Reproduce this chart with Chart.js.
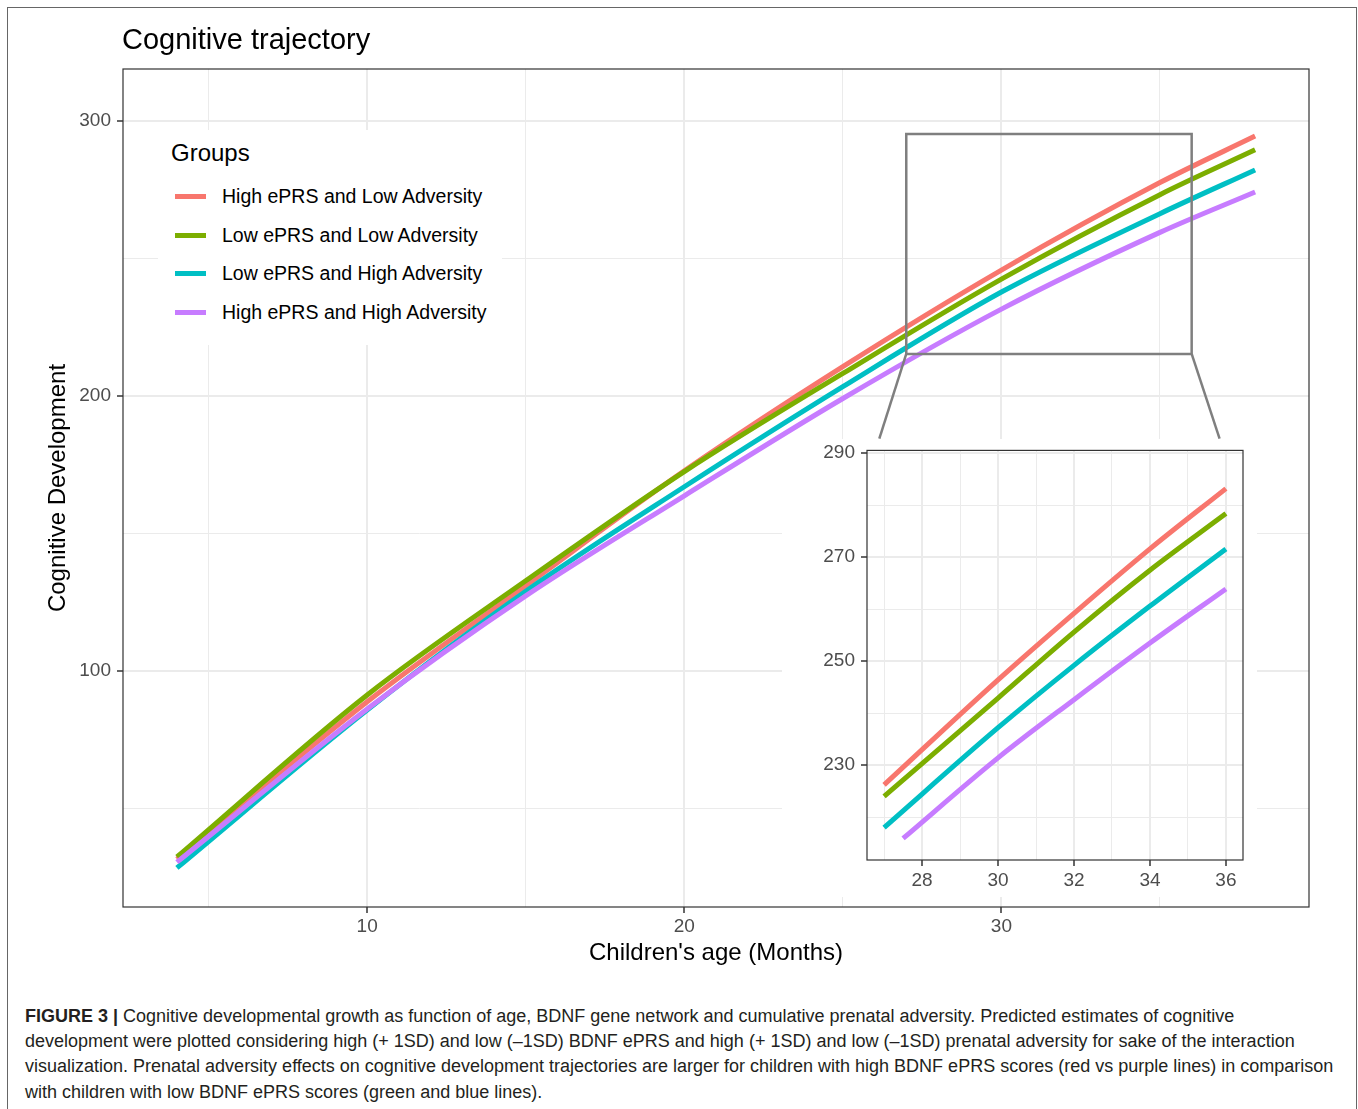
<!DOCTYPE html>
<html>
<head>
<meta charset="utf-8">
<script src="https://cdn.jsdelivr.net/npm/chart.js@4.4.0/dist/chart.umd.min.js"></script>
<style>
  html, body { margin: 0; padding: 0; background: #fff; }
  body { width: 1358px; height: 1109px; position: relative; overflow: hidden;
         font-family: "Liberation Sans", Arial, sans-serif; }
  #frame { position: absolute; left: 7px; top: 7px; width: 1350px; height: 1200px;
           box-sizing: border-box; border: 1.5px solid #666; }
  #mainChart { position: absolute; left: 0; top: 0; }
  #insetChart { position: absolute; left: 780px; top: 433px; }
  #title { position: absolute; left: 122px; top: 22px; font-size: 29px; line-height: 34px; color: #000; }
  #legend { position: absolute; left: 158px; top: 130px; width: 344px; height: 215px; background: #fff; }
  #legend .ttl { position: absolute; left: 13px; top: 9px; font-size: 24px; line-height: 28px; color: #000; }
  #legend .key { position: absolute; left: 17px; width: 31px; height: 5px; }
  #legend .lab { position: absolute; left: 64px; font-size: 19.5px; line-height: 24px; color: #000; white-space: nowrap; }
  .cap { position: absolute; left: 25px; font-size: 18px; line-height: 25px; color: #231f20; white-space: nowrap; }
</style>
</head>
<body>
<div id="frame"></div>
<canvas id="mainChart" width="1358" height="985"></canvas>
<div id="title">Cognitive trajectory</div>
<div id="legend"></div>
<canvas id="insetChart" width="477" height="464"></canvas>
<div class="cap" style="top:1004px"><b>FIGURE 3 |</b> Cognitive developmental growth as function of age, BDNF gene network and cumulative prenatal adversity. Predicted estimates of cognitive</div>
<div class="cap" style="top:1029px">development were plotted considering high (+ 1SD) and low (–1SD) BDNF ePRS and high (+ 1SD) and low (–1SD) prenatal adversity for sake of the interaction</div>
<div class="cap" style="top:1054px">visualization. Prenatal adversity effects on cognitive development trajectories are larger for children with high BDNF ePRS scores (red vs purple lines) in comparison</div>
<div class="cap" style="top:1080px">with children with low BDNF ePRS scores (green and blue lines).</div>

<script>
/* =========================
    Data
========================= */
const groupNames = [
  'High ePRS and Low Adversity',
  'Low ePRS and Low Adversity',
  'Low ePRS and High Adversity',
  'High ePRS and High Adversity'
];
const groupColors = ['#F8766D', '#7CAE00', '#00BFC4', '#C77CFF'];

// main panel: age in months
const ageMonths = [4, 10, 15, 20, 25, 30, 35, 38];
const highPrsLowAdv  = [31.6, 88.8, 131.0, 172.8, 210.7, 245.8, 277.6, 294.5];
const lowPrsLowAdv   = [32.4, 91.3, 132.8, 172.5, 208.2, 242.5, 273.2, 289.5];
const lowPrsHighAdv  = [28.4, 85.8, 129.0, 167.0, 203.4, 237.8, 266.3, 282.2];
const highPrsHighAdv = [30.5, 86.2, 127.3, 163.7, 199.1, 231.6, 259.5, 274.2];

// inset (zoom on 27-36 months)
const insetAge       = [27, 30, 32, 34, 36];
const insetAgePurple = [27.5, 30, 32, 34, 36];
const insetHighPrsLowAdv  = [226.2, 246.4, 259.2, 271.6, 283.2];
const insetLowPrsLowAdv   = [224.0, 242.9, 255.6, 267.5, 278.4];
const insetLowPrsHighAdv  = [218.0, 237.2, 249.2, 260.6, 271.6];
const insetHighPrsHighAdv = [215.9, 231.4, 242.6, 253.5, 263.9];

// zoom rectangle and connector lines (main data units)
const zoomBoxX = [27, 27, 36, 36, 27];
const zoomBoxY = [215.3, 295.3, 295.3, 215.3, 215.3];
const connLeftX = [27, 26.15];
const connRightX = [36, 36.88];
const connY = [215.3, 184.5];

// axis ticks
const xTickLabels = [10, 20, 30];
const yTickLabels = [100, 200, 300];
const insetXTickLabels = [28, 30, 32, 34, 36];
const insetYTickLabels = [230, 250, 270, 290];

/* =========================
    Helpers
========================= */
Chart.defaults.font.family = "'Liberation Sans', Arial, sans-serif";

function pts(xs, ys) {
  return xs.map((x, i) => ({ x: x, y: ys[i] }));
}

function groupDataset(i, xs, ys) {
  return {
    label: groupNames[i],
    data: pts(xs, ys),
    borderColor: groupColors[i],
    borderWidth: 5,
    borderCapStyle: 'butt',
    pointRadius: 0,
    cubicInterpolationMode: 'monotone',
    order: 4 - i
  };
}

function annotLine(xs, ys) {
  return {
    label: '',
    data: pts(xs, ys),
    borderColor: '#7f7f7f',
    borderWidth: 2.5,
    pointRadius: 0,
    tension: 0,
    order: 0
  };
}

const panelBorder = {
  id: 'panelBorder',
  afterDraw(chart) {
    const { ctx, chartArea: a } = chart;
    ctx.save();
    ctx.strokeStyle = '#333';
    ctx.lineWidth = 1.2;
    ctx.strokeRect(a.left, a.top, a.right - a.left, a.bottom - a.top);
    ctx.restore();
  }
};

// white patch behind the inset so the main grid is hidden there
const insetBackground = {
  id: 'insetBackground',
  beforeDraw(chart) {
    const { ctx, width, height } = chart;
    ctx.save();
    ctx.fillStyle = '#fff';
    ctx.fillRect(2, 6, width - 2, height - 6);
    ctx.restore();
  }
};

// linear scale with ggplot-like major/minor grid
function gridScale(opts) {
  const { min, max, step, labels, fitW, fitH, tickPad, title } = opts;
  const isMajor = v => labels.includes(Math.round(v * 100) / 100);
  return {
    type: 'linear',
    min: min,
    max: max,
    afterBuildTicks(scale) {
      const ticks = [];
      for (let v = Math.ceil(min / step - 1e-9) * step; v <= max + 1e-9; v += step) {
        ticks.push({ value: Math.round(v * 1000) / 1000 });
      }
      scale.ticks = ticks;
    },
    afterFit(scale) {
      if (fitW !== undefined) scale.width = fitW;
      if (fitH !== undefined) scale.height = fitH;
    },
    border: { display: false },
    grid: {
      color: '#ebebeb',
      lineWidth: ctx => isMajor(ctx.tick.value) ? 2 : 1,
      drawTicks: true,
      tickLength: 6,
      tickColor: ctx => isMajor(ctx.tick.value) ? '#333' : 'rgba(0,0,0,0)',
      tickWidth: 1.5
    },
    ticks: {
      autoSkip: false,
      maxRotation: 0,
      padding: tickPad,
      color: '#4d4d4d',
      font: { size: 19 },
      callback: v => isMajor(v) ? String(Math.round(v)) : ''
    },
    title: title || { display: false }
  };
}

/* =========================
    Main chart
========================= */
new Chart(document.getElementById('mainChart'), {
  type: 'line',
  data: {
    datasets: [
      groupDataset(0, ageMonths, highPrsLowAdv),
      groupDataset(1, ageMonths, lowPrsLowAdv),
      groupDataset(2, ageMonths, lowPrsHighAdv),
      groupDataset(3, ageMonths, highPrsHighAdv),
      annotLine(zoomBoxX, zoomBoxY),
      annotLine(connLeftX, connY),
      annotLine(connRightX, connY)
    ]
  },
  options: {
    responsive: false,
    animation: false,
    devicePixelRatio: 1,
    layout: { padding: { left: 0, top: 69, right: 49, bottom: 0 } },
    plugins: { legend: { display: false }, tooltip: { enabled: false } },
    scales: {
      x: gridScale({
        min: 2.3, max: 39.7, step: 5, labels: xTickLabels, fitH: 78, tickPad: 2,
        title: { display: true, text: "Children's age (Months)", color: '#000',
                 font: { size: 24 }, padding: { top: 0, bottom: 17 } }
      }),
      y: gridScale({
        min: 14.2, max: 318.9, step: 50, labels: yTickLabels, fitW: 123, tickPad: 6,
        title: { display: true, text: 'Cognitive Development', color: '#000',
                 font: { size: 24 }, padding: { top: 44, bottom: 0 } }
      })
    }
  },
  plugins: [panelBorder]
});

/* =========================
    Inset chart
========================= */
new Chart(document.getElementById('insetChart'), {
  type: 'line',
  data: {
    datasets: [
      groupDataset(0, insetAge, insetHighPrsLowAdv),
      groupDataset(1, insetAge, insetLowPrsLowAdv),
      groupDataset(2, insetAge, insetLowPrsHighAdv),
      groupDataset(3, insetAgePurple, insetHighPrsHighAdv)
    ]
  },
  options: {
    responsive: false,
    animation: false,
    devicePixelRatio: 1,
    layout: { padding: { left: 0, top: 0, right: 14, bottom: 0 } },
    plugins: { legend: { display: false }, tooltip: { enabled: false } },
    scales: {
      x: gridScale({ min: 26.55, max: 36.45, step: 1, labels: insetXTickLabels, fitH: 37, tickPad: 3 }),
      y: gridScale({ min: 211.75, max: 290.55, step: 10, labels: insetYTickLabels, fitW: 87, tickPad: 6 })
    }
  },
  plugins: [insetBackground, panelBorder]
});

/* =========================
    Legend (Groups)
========================= */
function renderLegend() {
  const box = document.getElementById('legend');
  const keyY = [66, 105, 143, 182];
  let html = '<div class="ttl">Groups</div>';
  groupNames.forEach((name, i) => {
    html += `<div class="key" style="top:${keyY[i] - 2.5}px;background:${groupColors[i]}"></div>`;
    html += `<div class="lab" style="top:${keyY[i] - 12}px">${name}</div>`;
  });
  box.innerHTML = html;
}

renderLegend();
</script>
</body>
</html>
